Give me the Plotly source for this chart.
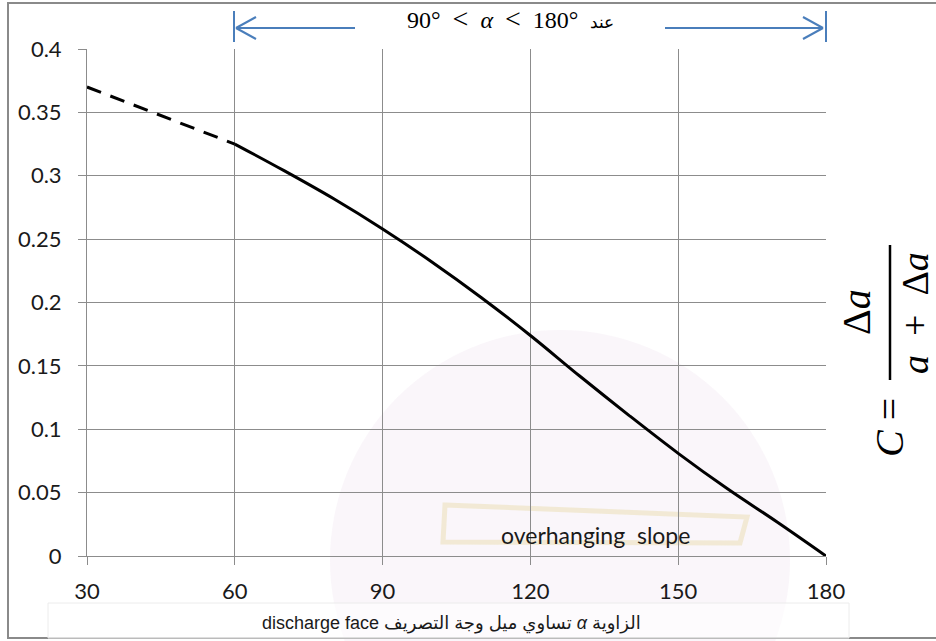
import plotly.graph_objects as go

# Extrapolated part of the curve (dashed)
alpha_dashed = [30, 60]
c_dashed = [0.370, 0.325]

# Main curve C(alpha) for the overhanging slope range
alpha_solid = [60, 70, 80, 90, 100, 110, 120, 130, 140, 150, 160, 170, 180]
c_solid = [0.325, 0.304, 0.282, 0.258, 0.232, 0.204, 0.174, 0.142, 0.111, 0.081, 0.053, 0.027, 0.0]

x_ticks = [30, 60, 90, 120, 150, 180]
x_tick_text = ["30", "60", "90", "120", "150", "180"]
y_ticks = [0, 0.05, 0.1, 0.15, 0.2, 0.25, 0.3, 0.35, 0.4]
y_tick_text = ["0", "0.05", "0.1", "0.15", "0.2", "0.25", "0.3", "0.35", "0.4"]

W, H = 936, 641
X0, X1 = 87, 826      # plot area, pixels
Y0, Y1 = 49, 556


def px(x):
    return (x - X0) / (X1 - X0)


def py(y):
    return (Y1 - y) / (Y1 - Y0)


GRID = "#8c8c8c"
BLUE = "#4a7ebb"
SANS = "Lato, 'Open Sans', 'DejaVu Sans', sans-serif"
SERIF = "'Liberation Serif', 'DejaVu Serif', serif"

fig = go.Figure()
fig.add_trace(go.Scatter(x=alpha_dashed, y=c_dashed, mode="lines",
                         line=dict(color="black", width=3, dash="15px,10px"),
                         showlegend=False, hoverinfo="skip"))
fig.add_trace(go.Scatter(x=alpha_solid, y=c_solid, mode="lines",
                         line=dict(color="black", width=3, shape="spline", smoothing=1.0),
                         showlegend=False, hoverinfo="skip"))

shapes = []
# faint logo tint behind the plot
shapes.append(dict(type="circle", xref="paper", yref="paper", layer="below",
                   x0=px(330), x1=px(790), y0=py(330), y1=py(790),
                   fillcolor="rgba(242,228,242,0.35)", line=dict(width=0)))
# banner frame around the label
shapes.append(dict(type="path", xref="paper", yref="paper", layer="below",
                   path="M {} {} L {} {} L {} {} L {} {} Z".format(
                       px(445), py(505), px(747), py(517), px(740), py(543), px(443), py(542)),
                   line=dict(color="rgba(238,228,196,0.7)", width=5)))
# outer frame
shapes.append(dict(type="rect", xref="paper", yref="paper", layer="below",
                   x0=px(8), x1=px(945), y0=py(638), y1=py(3),
                   line=dict(color="#8a8a8a", width=2)))
# caption box
shapes.append(dict(type="rect", xref="paper", yref="paper", layer="below",
                   x0=px(48), x1=px(849), y0=py(638), y1=py(603),
                   fillcolor="rgba(255,255,255,0.6)", line=dict(color="#ececec", width=1)))


def seg(xa, ya, xb, yb, color=BLUE, width=2):
    shapes.append(dict(type="line", xref="paper", yref="paper",
                       x0=px(xa), y0=py(ya), x1=px(xb), y1=py(yb),
                       line=dict(color=color, width=width)))


# range arrows 90° .. 180°
AY = 28
seg(234, 11, 234, 42)
seg(236, AY, 355, AY)
seg(236, AY, 256, AY - 11)
seg(236, AY, 256, AY + 11)
seg(826, 11, 826, 42)
seg(665, AY, 823, AY)
seg(823, AY, 803, AY - 11)
seg(823, AY, 803, AY + 11)
# fraction bar of the formula
seg(890, 245, 890, 380, color="black", width=2.5)

SP = "\u2002"
LT = "<span style='font-size:28px'><</span>"
annotations = [
    dict(text="90°" + SP + LT + SP + "<i>α</i>" + SP + LT + SP + "180°" + SP
              + "<span style='font-size:17px'>عند</span>",
         x=px(511), y=py(19),
         font=dict(family=SERIF, size=24, color="black")),
    dict(text="overhanging\u00a0 slope", x=px(595), y=py(535),
         font=dict(family=SANS, size=23, color="#1a1a1a")),
    dict(text="discharge face " + "تساوي ميل وجة التصريف" + " <i>α</i> " + "الزاوية",
         x=px(451), y=py(623),
         font=dict(family="'Liberation Sans', 'DejaVu Sans', sans-serif", size=18, color="#1a1a1a")),
    dict(text="<i>C</i> =", x=px(889), y=py(428), textangle=-90,
         font=dict(family=SERIF, size=40, color="black")),
    dict(text="Δ<i>a</i>", x=px(856), y=py(312), textangle=-90,
         font=dict(family=SERIF, size=40, color="black")),
    dict(text="<i>a</i>\u2002+\u2002Δ<i>a</i>", x=px(915), y=py(313), textangle=-90,
         font=dict(family=SERIF, size=38, color="black")),
]
for a in annotations:
    a.update(xref="paper", yref="paper", showarrow=False,
             xanchor="center", yanchor="middle")

fig.update_layout(
    width=W, height=H, autosize=False,
    margin=dict(l=X0, r=W - X1, t=Y0, b=H - Y1, pad=0),
    paper_bgcolor="white", plot_bgcolor="rgba(0,0,0,0)",
    shapes=shapes, annotations=annotations,
    xaxis=dict(range=[30, 180], tickmode="array", tickvals=x_ticks, ticktext=x_tick_text,
               showgrid=True, gridcolor=GRID, gridwidth=1, zeroline=False,
               showline=True, linecolor=GRID, linewidth=1,
               ticks="outside", ticklen=8, tickcolor=GRID, ticklabelstandoff=8,
               tickfont=dict(family=SANS, size=22, color="#1a1a1a")),
    yaxis=dict(range=[0, 0.4], tickmode="array", tickvals=y_ticks, ticktext=y_tick_text,
               showgrid=True, gridcolor=GRID, gridwidth=1, zeroline=False,
               showline=True, linecolor=GRID, linewidth=1,
               ticks="outside", ticklen=8, tickcolor=GRID, ticklabelstandoff=12,
               tickfont=dict(family=SANS, size=22, color="#1a1a1a")),
)

fig.write_html("out.html")
